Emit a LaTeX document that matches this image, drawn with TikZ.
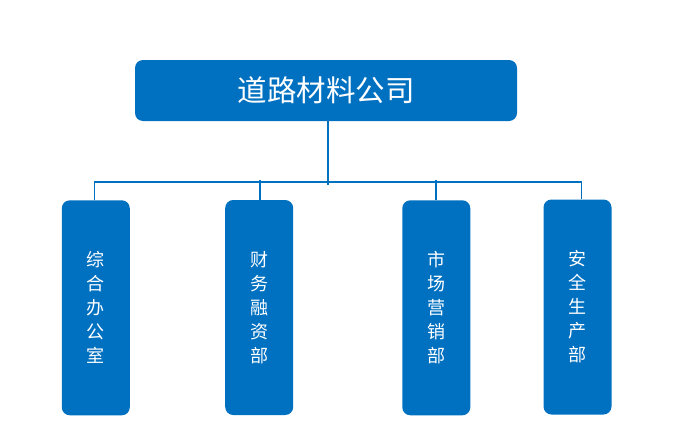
\documentclass[tikz,border=0pt]{standalone}
\usepackage{fontspec}
\newfontfamily\cjk{Noto Sans CJK SC}
\definecolor{boxblue}{HTML}{0070C0}
\begin{document}
\begin{tikzpicture}[x=1pt,y=-1pt,
  topbox/.style={fill=boxblue, rounded corners=8pt, minimum width=382pt, minimum height=61pt, inner sep=0pt, text=white, font=\cjk\fontsize{29.5}{31}\selectfont},
  deptbox/.style={fill=boxblue, rounded corners=8pt, minimum width=68pt, minimum height=215pt, inner sep=0pt, text=white, align=center, font=\cjk\fontsize{18}{24}\selectfont},
  link/.style={draw=boxblue, line width=1.6pt}]
\useasboundingbox (0,0) rectangle (700,439);
\node[topbox] (top) at (326,90.5) {道路材料公司};
\node[deptbox] (d1) at (95.8,307.8) {综\\合\\办\\公\\室};
\node[deptbox] (d2) at (259.2,307.5) {财\\务\\融\\资\\部};
\node[deptbox] (d3) at (436.3,307.8) {市\\场\\营\\销\\部};
\node[deptbox] (d4) at (577.5,307) {安\\全\\生\\产\\部};
\coordinate (hl) at (94.5,181.7);
\coordinate (hr) at (581.3,181.7);
\coordinate (vend) at (327.7,185);
\coordinate (t2) at (260,180);
\coordinate (t3) at (435.7,180);
\draw[link] (top.south -| vend) -- (vend);
\draw[link] (d1.north -| hl) -- (hl) -- (hr) -- (d4.north -| hr);
\draw[link] (d2.north -| t2) -- (t2);
\draw[link] (d3.north -| t3) -- (t3);
\end{tikzpicture}
\end{document}
